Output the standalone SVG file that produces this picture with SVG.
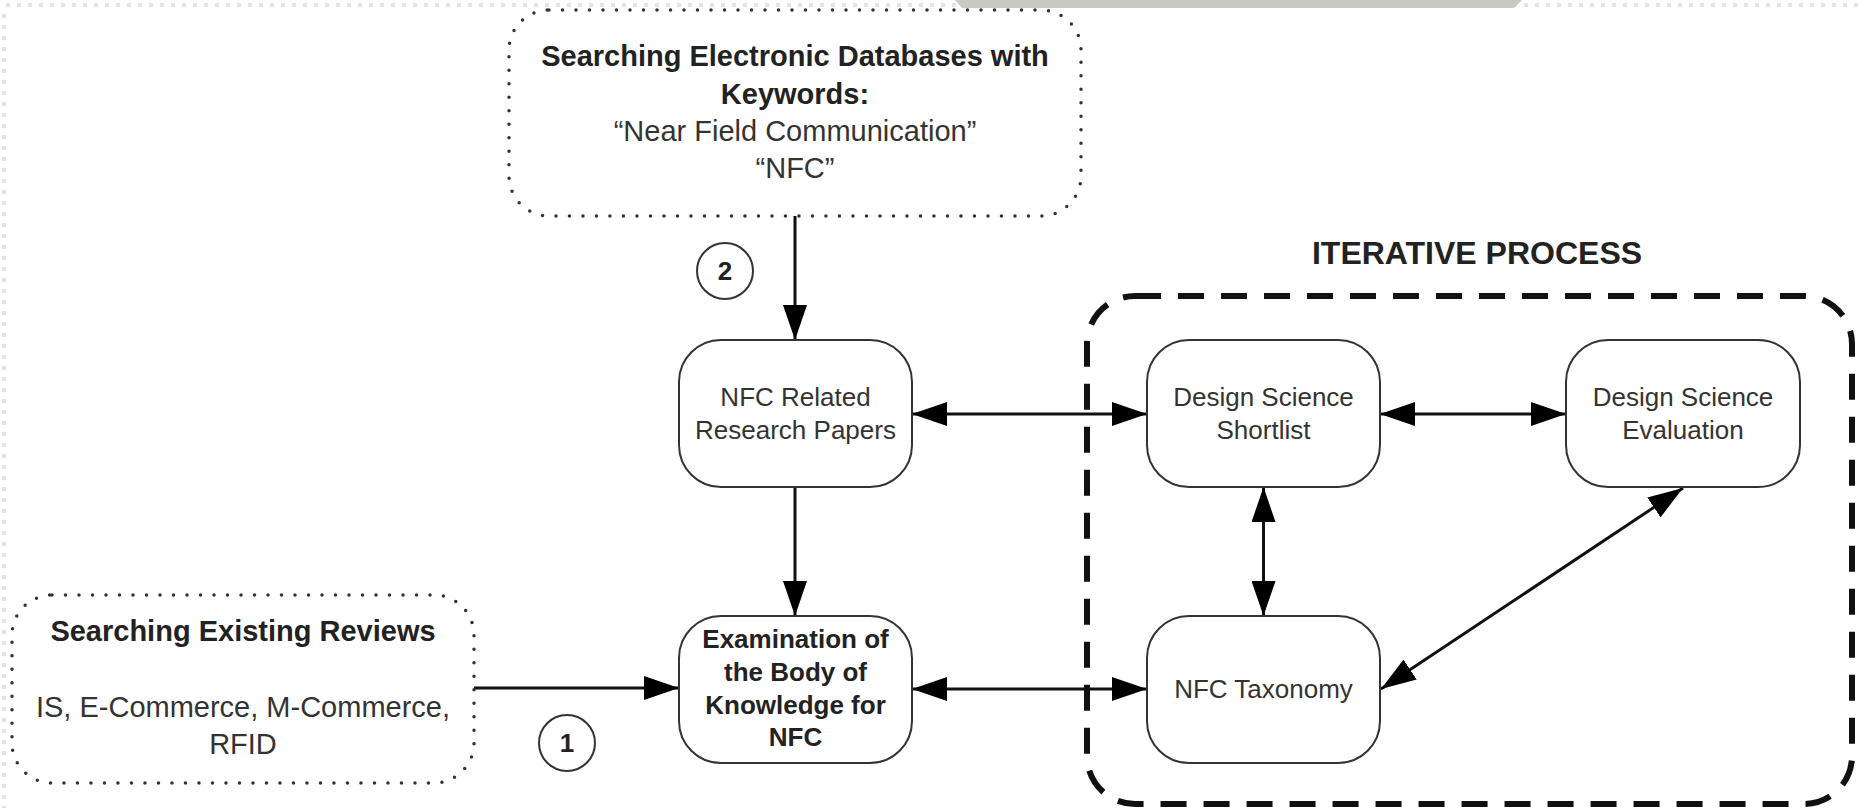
<svg xmlns="http://www.w3.org/2000/svg" width="1858" height="808" viewBox="0 0 1858 808">
<defs>
<style>
.node{fill:#fff;stroke:#333;stroke-width:2}
.dot{fill:none;stroke:#333;stroke-width:3.5;stroke-dasharray:0 13.5;stroke-linecap:round}
.dash{fill:none;stroke:#111;stroke-width:6;stroke-dasharray:26 17}
.t{font-family:"Liberation Sans",Arial,sans-serif;font-size:26px;fill:#333;text-anchor:middle}
.b{font-weight:bold;fill:#222}
.big{font-size:29px}
.title{font-size:32px;font-weight:bold;fill:#222}
.c{fill:none;stroke:#111;stroke-width:3}
.circ{fill:#fff;stroke:#333;stroke-width:2}
</style>
<marker id="ah" viewBox="0 0 35 24" refX="35" refY="12" markerWidth="35" markerHeight="24" markerUnits="userSpaceOnUse" orient="auto-start-reverse">
<path d="M0,0 L35,12 L0,24 z" fill="#000"/>
</marker>
</defs>
<rect width="1858" height="808" fill="#fff"/>
<g id="page-border">
<path d="M6,5 H1858" fill="none" stroke="#e4e4e4" stroke-width="4" stroke-dasharray="4 7"/>
<path d="M4,14 V808" fill="none" stroke="#e4e4e4" stroke-width="4" stroke-dasharray="4 7"/>
<polygon points="955,0 1522,0 1514,8 962,8" fill="#c9c9c1"/>
</g>
<g id="iterative-process">
<rect class="dash" x="1087" y="296" width="765" height="508" rx="48"/>
<text class="t title" x="1477" y="264">ITERATIVE PROCESS</text>
</g>
<g id="connectors">
<line class="c" x1="795" y1="216" x2="795" y2="340" marker-end="url(#ah)"/>
<line class="c" x1="795" y1="487" x2="795" y2="616" marker-end="url(#ah)"/>
<line class="c" x1="474" y1="688" x2="679" y2="688" marker-end="url(#ah)"/>
<line class="c" x1="912" y1="414" x2="1147" y2="414" marker-start="url(#ah)" marker-end="url(#ah)"/>
<line class="c" x1="1380" y1="414" x2="1566" y2="414" marker-start="url(#ah)" marker-end="url(#ah)"/>
<line class="c" x1="1263.5" y1="487" x2="1263.5" y2="616" marker-start="url(#ah)" marker-end="url(#ah)"/>
<line class="c" x1="912" y1="689" x2="1147" y2="689" marker-start="url(#ah)" marker-end="url(#ah)"/>
<line class="c" x1="1683" y1="488" x2="1381" y2="689" marker-start="url(#ah)" marker-end="url(#ah)"/>
</g>
<g id="search-databases">
<rect class="dot" x="509" y="10" width="572" height="206" rx="40"/>
<text class="t b big" x="795" y="66">Searching Electronic Databases with</text>
<text class="t b big" x="795" y="104">Keywords:</text>
<text class="t big" x="795" y="141">“Near Field Communication”</text>
<text class="t big" x="795" y="178">“NFC”</text>
</g>
<g id="search-reviews">
<rect class="dot" x="12" y="595" width="462" height="188" rx="40"/>
<text class="t b big" x="243" y="641">Searching Existing Reviews</text>
<text class="t big" x="243" y="717">IS, E-Commerce, M-Commerce,</text>
<text class="t big" x="243" y="754">RFID</text>
</g>
<g id="nfc-papers">
<rect class="node" x="679" y="340" width="233" height="147" rx="42"/>
<text class="t" x="795.5" y="406">NFC Related</text>
<text class="t" x="795.5" y="439">Research Papers</text>
</g>
<g id="examination">
<rect class="node" x="679" y="616" width="233" height="147" rx="42"/>
<text class="t b" x="795.5" y="648">Examination of</text>
<text class="t b" x="795.5" y="681">the Body of</text>
<text class="t b" x="795.5" y="714">Knowledge for</text>
<text class="t b" x="795.5" y="746">NFC</text>
</g>
<g id="ds-shortlist">
<rect class="node" x="1147" y="340" width="233" height="147" rx="42"/>
<text class="t" x="1263.5" y="406">Design Science</text>
<text class="t" x="1263.5" y="439">Shortlist</text>
</g>
<g id="ds-evaluation">
<rect class="node" x="1566" y="340" width="234" height="147" rx="42"/>
<text class="t" x="1683" y="406">Design Science</text>
<text class="t" x="1683" y="439">Evaluation</text>
</g>
<g id="nfc-taxonomy">
<rect class="node" x="1147" y="616" width="233" height="147" rx="42"/>
<text class="t" x="1263.5" y="698">NFC Taxonomy</text>
</g>
<g id="step-2">
<circle class="circ" cx="725" cy="271" r="28"/>
<text class="t b" x="725" y="280">2</text>
</g>
<g id="step-1">
<circle class="circ" cx="567" cy="743" r="28"/>
<text class="t b" x="567" y="752">1</text>
</g>
</svg>
